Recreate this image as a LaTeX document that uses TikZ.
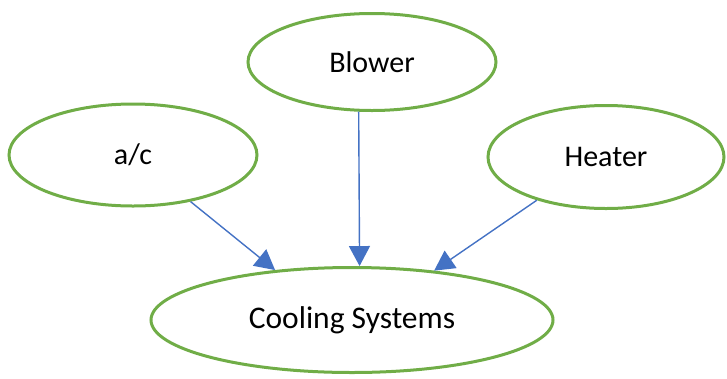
\documentclass[tikz,border=0pt]{standalone}
\usepackage{fontspec}
\setmainfont{Carlito}
\usetikzlibrary{shapes,arrows.meta}
\definecolor{leafgreen}{HTML}{70AD47}
\definecolor{linkblue}{HTML}{4472C4}

\begin{document}
\begin{tikzpicture}[x=1pt,y=-1pt,
		blob/.style={ellipse,draw=leafgreen,line width=3pt,inner sep=0pt,font=\fontsize{30}{36}\selectfont},
		feed/.style={-{Triangle[length=20pt,width=21pt]},color=linkblue,line width=1.4pt}]
	\useasboundingbox (0,0) rectangle (727,378);
	\node[blob,minimum width=248pt,minimum height=102pt] (ac) at (133,155) {a/c};
	\node[blob,minimum width=248pt,minimum height=97pt] (blower) at (372,62) {Blower};
	\node[blob,minimum width=236pt,minimum height=103pt] (heater) at (606,157) {Heater};
	\node[blob,minimum width=402pt,minimum height=105pt,font=\fontsize{31.5}{38}\selectfont] (cool) at (352,320) {Cooling Systems};

	\path[feed,draw] (ac.-39.5) -- (cool.147);
	\path[feed,draw] (blower.-105) -- (cool.82.5);
	\path[feed,draw] (heater.-148) -- (cool.31);
\end{tikzpicture}
\end{document}
